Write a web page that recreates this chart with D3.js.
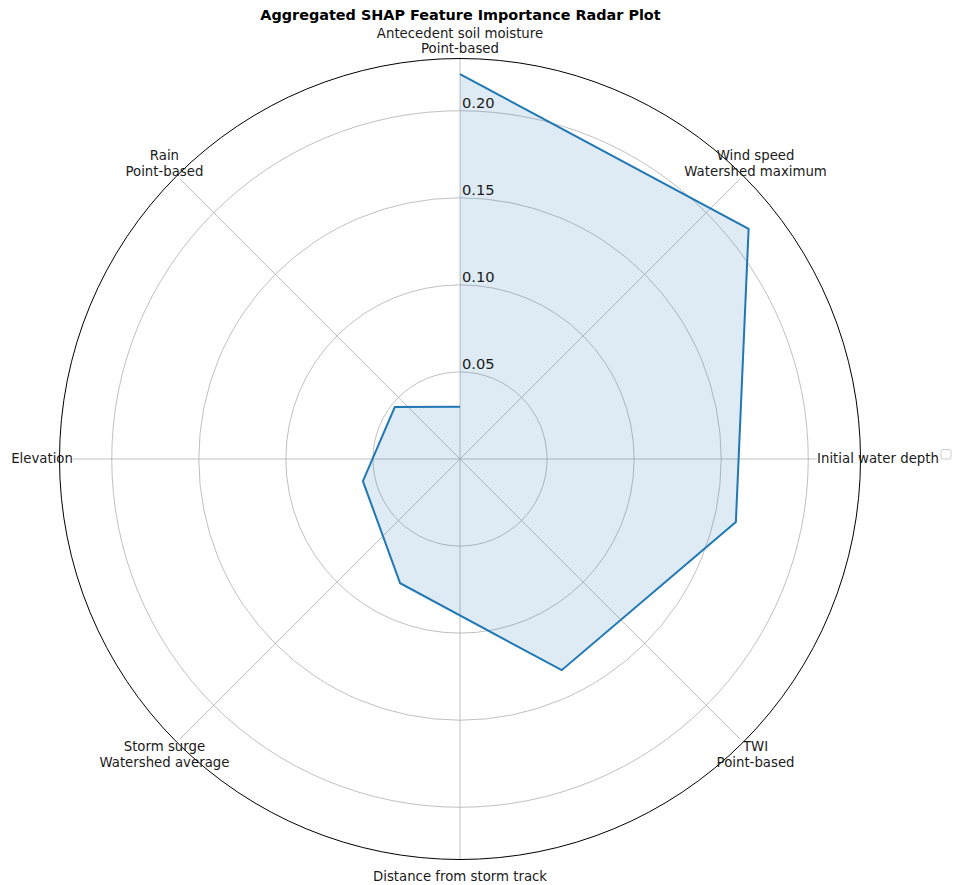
<!DOCTYPE html>
<html>
<head>
<meta charset="utf-8">
<script src="https://cdn.jsdelivr.net/npm/d3@7"></script>
<style>
  html, body { margin: 0; padding: 0; background: #fff; }
  svg { display: block; font-family: "DejaVu Sans", sans-serif; }
</style>
</head>
<body>
<svg id="chart" width="953" height="885"></svg>
<script>
// ---- data ----
const features = [
  "Antecedent soil moisture\nPoint-based",
  "Wind speed\nWatershed maximum",
  "Initial water depth",
  "TWI\nPoint-based",
  "Distance from storm track",
  "Storm surge\nWatershed average",
  "Elevation",
  "Rain\nPoint-based"
];
const shapValues = [0.2210, 0.2120, 0.1625, 0.1346, 0.0792, 0.0572, 0.0479, 0.0300];
const radialTicks = [0.05, 0.10, 0.15, 0.20];
const radialTickLabels = ["0.05", "0.10", "0.15", "0.20"];
const rMax = 0.23;
const titleText = "Aggregated SHAP Feature Importance Radar Plot";

// ---- layout ----
const svg = d3.select("#chart");
const cx = 460, cy = 459, R = 400.5;
const r = d3.scaleLinear().domain([0, rMax]).range([0, R]);
const n = features.length;
// data angles: linspace(0, 2pi, n) (clockwise from top)
const dataAngle = d3.scaleLinear().domain([0, n - 1]).range([0, 2 * Math.PI]);
// label/grid angles: every 360/n degrees
const gridAngle = d3.scaleLinear().domain([0, n]).range([0, 2 * Math.PI]);

const g = svg.append("g").attr("transform", `translate(${cx},${cy})`);
const gridG = g.append("g");
const dataG = g.append("g");
const bgG = g.append("g");
const spineG = g.append("g");
const labG = g.append("g");

// radial grid circles
gridG.selectAll("circle").data(radialTicks).enter().append("circle")
  .attr("r", d => r(d))
  .attr("fill", "none").attr("stroke", "#b0b0b0").attr("stroke-width", 0.8);

// angular grid lines
gridG.selectAll("line").data(features).enter().append("line")
  .attr("x1", 0).attr("y1", 0)
  .attr("x2", (d, i) => R * Math.sin(gridAngle(i)))
  .attr("y2", (d, i) => -R * Math.cos(gridAngle(i)))
  .attr("stroke", "#b0b0b0").attr("stroke-width", 0.8);

// fill + line
const pts = shapValues.map((v, i) => [dataAngle(i), r(v)]);
dataG.append("path")
  .attr("d", d3.lineRadial().angle(d => d[0]).radius(d => d[1]).curve(d3.curveLinearClosed)(pts))
  .attr("fill", "#1f77b4").attr("fill-opacity", 0.15).attr("stroke", "none");
dataG.append("path")
  .attr("d", d3.lineRadial().angle(d => d[0]).radius(d => d[1])(pts))
  .attr("fill", "none").attr("stroke", "#1f77b4").attr("stroke-width", 2);

// radial tick labels
dataG.selectAll("text").data(radialTicks).enter().append("text")
  .attr("x", 2).attr("y", d => -r(d) - 3)
  .attr("font-size", 14.7).attr("fill", "#1a1a1a")
  .text((d, i) => radialTickLabels[i]);

// outer spine
spineG.append("circle").attr("r", R).attr("fill", "none")
  .attr("stroke", "#000").attr("stroke-width", 1);

// theta labels with white backgrounds
const fs = 13.3, lh = 15.5, labR = 418;
features.forEach((d, i) => {
  const lx = labR * Math.sin(gridAngle(i)), ly = -labR * Math.cos(gridAngle(i));
  const lines = d.split("\n");
  const t = labG.append("text").attr("text-anchor", "middle")
    .attr("font-size", fs).attr("fill", "#1a1a1a");
  const h0 = -(lines.length - 1) * lh / 2;
  lines.forEach((ln, k) => {
    t.append("tspan").attr("x", lx).attr("y", ly + h0 + k * lh + 4.4).text(ln);
  });
  const bb = t.node().getBBox();
  bgG.append("rect").attr("x", bb.x).attr("y", bb.y)
    .attr("width", bb.width).attr("height", bb.height).attr("fill", "#fff");
});

// empty legend box
svg.append("rect").attr("x", 941).attr("y", 449.5).attr("width", 10).attr("height", 9.5)
  .attr("rx", 2).attr("fill", "#fff").attr("stroke", "#cccccc").attr("stroke-width", 1);

// title
svg.append("text").attr("x", 460.5).attr("y", 20).attr("text-anchor", "middle")
  .attr("font-size", 14.4).attr("font-weight", "bold").attr("fill", "#000")
  .text(titleText);
</script>
</body>
</html>
